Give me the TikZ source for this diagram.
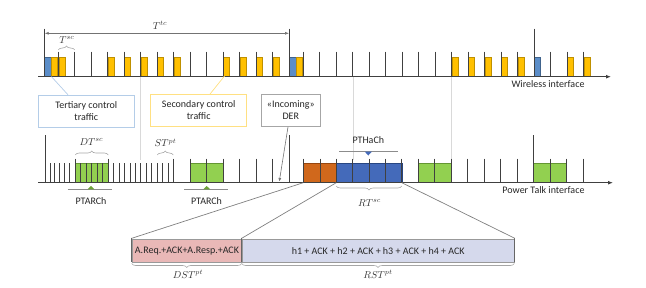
\documentclass[tikz,border=0pt]{standalone}
\usepackage{fontspec}
\setmainfont{Carlito}
\usetikzlibrary{decorations.pathreplacing,arrows.meta}
\definecolor{tblue}{RGB}{91,141,200}
\definecolor{tyellow}{RGB}{255,192,0}
\definecolor{tyellowd}{RGB}{191,144,0}
\definecolor{tgreen}{RGB}{146,208,80}
\definecolor{tgreend}{RGB}{100,150,50}
\definecolor{torange}{RGB}{208,104,28}
\definecolor{torangedk}{RGB}{150,70,15}
\definecolor{tdblue}{RGB}{68,106,186}
\definecolor{tdbluedk}{RGB}{40,70,130}
\definecolor{tpink}{RGB}{233,184,183}
\definecolor{tlav}{RGB}{213,217,236}
\definecolor{tickc}{RGB}{64,64,64}
\definecolor{lblue}{RGB}{180,205,232}
\definecolor{lyellow}{RGB}{255,224,130}
\definecolor{lgray}{RGB}{166,166,166}
\begin{document}
\begin{tikzpicture}[x=1pt,y=-1pt,
  txt/.style={font=\fontsize{10}{12}\selectfont, text=black!85},
  mth/.style={font=\fontsize{10}{12}\selectfont, text=black!80},
  tickw/.style={draw=tickc, line width=1pt},
  axisline/.style={draw=tickc, line width=1pt, -{Latex[length=5pt,width=4pt]}},
  bracec/.style={draw=black!35, line width=0.6pt, decorate, decoration={brace,amplitude=4pt}},
  infobox/.style={draw, line width=0.8pt, fill=white, minimum height=32pt, align=center, txt, inner sep=1pt},
  guide/.style={draw=black!15, line width=0.6pt},
  zoomline/.style={draw=black!50, line width=0.7pt}
]
\useasboundingbox (0,0) rectangle (646,287);

% guide lines
\draw[guide] (140.7,77) -- (140.7,160);
\draw[guide] (352.8,77) -- (352.8,160);
\draw[guide] (451.5,77) -- (451.5,160);

% ===== Wireless interface =====
\foreach \a/\b in {44.7/51.3, 289.5/296.7, 534.3/540.5}
  \draw[draw=tblue!70!black, fill=tblue, line width=0.5pt] (\a,57.3) rectangle (\b,76.7);
\foreach \a in {51.3, 58.8, 107.9, 124.4, 140.9, 157.4, 173.9, 223.4, 239.9, 256.4, 272.9, 296.7, 452.0, 468.5, 485.0, 501.5, 518.0, 567.5, 584.0}
  \draw[draw=tyellowd, fill=tyellow, line width=0.5pt] (\a,57.3) rectangle (\a+6,76.7);
\foreach \x in {58.3, 74.7, 91.2, 107.7, 124.2, 140.7, 157.2, 173.7, 190.2, 206.7, 223.2, 239.7, 256.2, 272.7, 303.3, 319.8, 336.3, 352.8, 369.3, 385.8, 402.3, 418.8, 435.3, 451.8, 468.3, 484.8, 501.3, 517.8, 550.8, 567.3, 583.8}
  \draw[tickw] (\x,51.7) -- (\x,76.7);
\foreach \x in {44.7, 289, 534.3}
  \draw[tickw] (\x,28.5) -- (\x,76.7);
\coordinate (wa) at (38,76.7);
\coordinate (wb) at (611,76.7);
\draw[axisline] (wa) -- (wb);
\node[txt, anchor=east] (wlabel) at (588,84.5) {Wireless interface};

% period arrow
\coordinate (pa) at (44.7,33.3);
\coordinate (pb) at (289,33.3);
\draw[draw=black!55, line width=0.6pt, {Latex[length=4pt,width=3pt]}-{Latex[length=4pt,width=3pt]}] (pa) -- (pb);
\node[mth] (ttc) at (160,25.5) {$T^{tc}$};
\draw[bracec] (58.3,50) -- (74.7,50);
\node[mth] (tsc) at (67,40) {$T^{sc}$};

% info boxes
\node[infobox, draw=lblue, minimum width=96pt] (tert) at (86.3,111.2) {Tertiary control\\traffic};
\node[infobox, draw=lyellow, minimum width=96pt] (sec) at (198.7,110.5) {Secondary control\\traffic};
\node[infobox, draw=lgray, minimum width=59.7pt] (der) at (290.8,110.5) {«Incoming»\\DER};
\coordinate (bluept) at (51.5,76.7);
\coordinate (yelpt) at (224.5,76);
\coordinate (derpt) at (279.3,181.5);
\draw[draw=lblue, line width=0.7pt] (bluept) -- (tert.north -| 68,0);
\draw[draw=lyellow, line width=0.7pt] (yelpt) -- (sec.north -| 210,0);
\draw[draw=black!55, line width=0.6pt, -{Latex[length=3.5pt,width=3pt]}] (der.south -| 288,0) -- (derpt);

% ===== Power Talk interface =====
\foreach \a/\b in {75.3/108.3, 190/223, 418.3/451.2, 533.5/566.7}
  \draw[draw=tgreend, fill=tgreen, line width=0.6pt] (\a,163.3) rectangle (\b,182.7);
\draw[draw=torangedk, fill=torange, line width=0.6pt] (303.3,163.3) rectangle (336.3,182.7);
\draw[draw=tdbluedk, fill=tdblue, line width=0.6pt] (336.3,163.3) rectangle (401.8,182.7);
\foreach \x in {50, 54.8, 59.6, 64.5, 69.5, 80.8, 86.3, 91.8, 97.3, 102.8, 113.7, 119.1, 124.5, 130, 135.4, 140.8, 146.3, 151.7, 157.1, 162.5, 168}
  \draw[tickw] (\x,163) -- (\x,182.7);
\foreach \x in {75.3, 108.3, 173.3, 190, 206.7, 223, 239.7, 256.2, 272.7, 303.3, 320, 336.3, 352.8, 369.3, 385.8, 401.8, 418.3, 434.8, 451.2, 467.7, 484.2, 500.8, 517.3, 550, 566.7, 583.3}
  \draw[tickw] (\x,158.5) -- (\x,182.7);
\foreach \x in {45, 289.3, 533.5}
  \draw[tickw] (\x,135) -- (\x,182.7);
\coordinate (pta) at (38,182.7);
\coordinate (ptb) at (613,182.7);
\draw[axisline] (pta) -- (ptb);
\node[txt, anchor=east] (plabel) at (588,190.5) {Power Talk interface};

\draw[bracec] (75.3,155) -- (108.3,155);
\node[mth] (dtsc) at (91.5,142) {$DT^{sc}$};
\draw[bracec] (157.3,155) -- (173.3,155);
\node[mth] (stpt) at (165.5,143) {$ST^{pt}$};
\draw[bracec] (401.8,186) -- (336.3,186);
\node[mth] (rtsc) at (369.5,203) {$RT^{sc}$};

\foreach \c/\l/\r in {91/67.7/111.7, 206.7/184.3/227.7}{
  \draw[draw=black!45, line width=0.6pt] (\l,189.3) -- (\r,189.3);
  \fill[tgreend!80!tgreen] (\c-3.5,189.3) -- (\c+3.5,189.3) -- (\c,186) -- cycle;
}
\node[txt] (ptarch1) at (91,201) {PTARCh};
\node[txt] (ptarch2) at (206.5,201) {PTARCh};
\draw[draw=black!45, line width=0.6pt] (339.3,151.7) -- (398.3,151.7);
\fill[tdblue] (364.8,151.7) -- (371.8,151.7) -- (368.3,155.5) -- cycle;
\node[txt] (pthach) at (368.3,140) {PTHaCh};

% ===== zoomed frame =====
\node[draw=black!40, fill=tpink, line width=0.5pt, minimum width=110pt, minimum height=22.4pt, inner sep=0pt, anchor=north west, txt] (dst) at (131.7,239.3) {A.Req.+ACK+A.Resp.+ACK};
\node[draw=black!40, fill=tlav, line width=0.5pt, minimum width=272.6pt, minimum height=22.4pt, inner sep=0pt, anchor=north west, txt] (rst) at (241.7,239.3) {h1 + ACK + h2 + ACK + h3 + ACK + h4 + ACK};
\draw[draw=black!60, line width=1.2pt] (dst.north west) ++(0,-1.8) -- (dst.south west);
\draw[draw=black!60, line width=1.2pt] (rst.north west) ++(0,-1.8) -- (rst.south west);
\draw[draw=black!60, line width=1.2pt] (rst.north east) ++(0,-1.8) -- (rst.south east);
\coordinate (z1) at (303.3,182.7);
\coordinate (z2) at (336.3,182.7);
\coordinate (z3) at (401.8,182.7);
\draw[zoomline] (z1) -- ([yshift=1pt]dst.north west);
\draw[zoomline] (z2) -- ([yshift=1pt]rst.north west);
\draw[zoomline] (z3) -- ([yshift=1pt]rst.north east);
\draw[bracec] (241.7,263.5) -- (131.7,263.5);
\node[mth] (dstpt) at (188,274.5) {$DST^{pt}$};
\draw[bracec] (514.3,263.5) -- (241.7,263.5);
\node[mth] (rstpt) at (378,274.5) {$RST^{pt}$};
\end{tikzpicture}
\end{document}
